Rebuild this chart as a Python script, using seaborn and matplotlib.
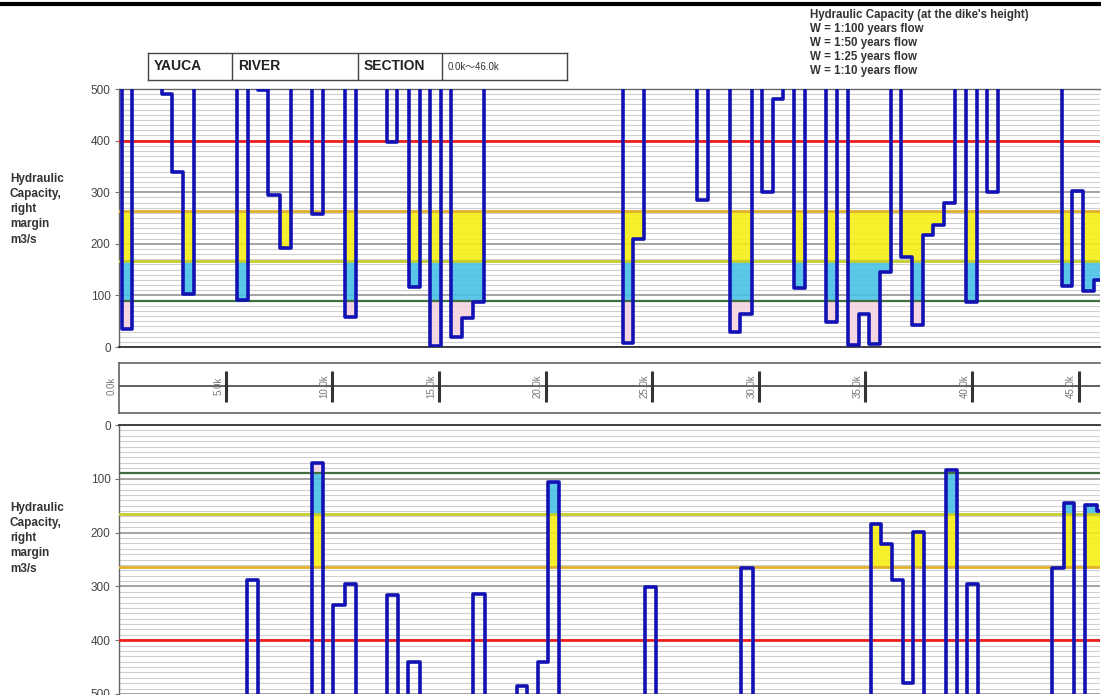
import numpy as np
import matplotlib
matplotlib.use("Agg")
import matplotlib.pyplot as plt
import seaborn as sns
from matplotlib.lines import Line2D

# ---------------- data ----------------
# section boundaries (km) and hydraulic capacity (m3/s) per section; 600 = above chart top
upper_km = [0.00, 0.13, 0.60, 2.00, 2.47, 3.02, 3.53, 5.52, 6.03, 6.53, 7.00, 7.55, 8.07,
            9.04, 9.58, 10.60, 11.11, 12.58, 13.05, 13.60, 14.11, 14.58, 15.10, 15.55,
            16.07, 16.59, 17.12, 23.62, 24.12, 24.63, 27.12, 27.63, 28.65, 29.12, 29.67,
            30.17, 30.68, 31.15, 31.67, 32.17, 33.14, 33.68, 34.17, 34.70, 35.18, 35.68,
            36.19, 36.67, 37.17, 37.71, 38.18, 38.70, 39.20, 39.70, 40.22, 40.69, 41.20,
            44.23, 44.70, 45.22, 45.73, 46.00]
upper_cap = [600, 35, 600, 491, 339, 103, 600, 92, 600, 498, 295, 192, 600,
             257, 600, 59, 600, 397, 600, 117, 600, 1, 600, 19,
             56, 87, 600, 8, 210, 600, 285, 600, 29, 63, 600,
             300, 481, 600, 115, 600, 48, 600, 3, 64, 6, 145,
             600, 175, 43, 217, 237, 280, 600, 87, 600, 300, 600,
             119, 303, 108, 130]

lower_km = [0.00, 5.99, 6.53, 9.04, 9.55, 10.05, 10.60, 11.11, 12.55, 13.07, 13.57, 14.11,
            16.61, 17.16, 18.65, 19.15, 19.63, 20.13, 20.65, 24.66, 25.18, 29.17, 29.71,
            35.25, 35.73, 36.23, 36.75, 37.25, 37.75, 38.76, 39.28, 39.75, 40.29, 43.76,
            44.31, 44.80, 45.30, 45.85, 46.00]
lower_cap = [600, 289, 600, 71, 600, 334, 295, 600, 316, 600, 441, 600,
             314, 600, 486, 600, 441, 106, 600, 302, 600, 266, 600,
             184, 222, 289, 480, 198, 600, 83, 600, 296, 600, 266,
             145, 600, 149, 160]

flow_labels = ["W = 1:100 years flow", "W = 1:50 years flow",
               "W = 1:25 years flow", "W = 1:10 years flow"]
flow_values = [400, 264, 166, 90]
legend_title = "Hydraulic Capacity (at the dike's height)"

km_ticks = [0, 5, 10, 15, 20, 25, 30, 35, 40, 45]
km_tick_labels = ["0.0k", "5.0k", "10.0k", "15.0k", "20.0k", "25.0k",
                  "30.0k", "35.0k", "40.0k", "45.0k"]
y_ticks = [0, 100, 200, 300, 400, 500]
header_cells = ["YAUCA", "RIVER", "SECTION", "0.0k\u301c46.0k"]
ylabel_text = "Hydraulic\nCapacity,\nright\nmargin\nm3/s"

# ---------------- style ----------------
sns.set_style("white")
plt.rcParams["font.family"] = ["Liberation Sans", "DejaVu Sans", "Noto Sans CJK JP"]

W, H = 1101, 695
fig = plt.figure(figsize=(W / 100, H / 100), dpi=100)


def fx(px):
    return px / W


def fy(py):
    return 1 - py / H


line_colors = ["#ee2020", "#e2b12a", "#c6cc2a", "#3f6f3f"]
line_widths = [2.0, 2.0, 2.0, 1.6]
fill_yellow = "#f7ef10"
fill_blue = "#45c0e6"
fill_pink = "#f3d3df"
cap_color = "#1212b4"


def draw_panel(ax, km, cap, inverted=False):
    x = np.asarray(km, dtype=float)
    y = np.asarray(list(cap) + [cap[-1]], dtype=float)
    t100, t50, t25, t10 = flow_values
    ax.fill_between(x, np.clip(y, t25, t50), t50, step="post", color=fill_yellow,
                    lw=0, zorder=1, alpha=0.88)
    ax.fill_between(x, np.clip(y, t10, t25), t25, step="post", color=fill_blue,
                    lw=0, zorder=1, alpha=0.88)
    ax.fill_between(x, np.clip(y, 0, t10), t10, step="post", color=fill_pink,
                    lw=0, zorder=1, alpha=0.9)
    for v, c, lw in zip(flow_values, line_colors, line_widths):
        ax.axhline(v, color=c, lw=lw, zorder=3)
    sns.lineplot(x=x, y=y, drawstyle="steps-post", estimator=None, sort=False,
                 color=cap_color, linewidth=2.6, ax=ax, zorder=4)
    ax.set_xlim(0, 46)
    if inverted:
        ax.set_ylim(500, 0)
    else:
        ax.set_ylim(0, 500)
    ax.set_yticks(y_ticks)
    ax.set_yticks(np.arange(0, 501, 10), minor=True)
    ax.set_axisbelow(True)
    ax.grid(which="minor", axis="y", color="#cfcfcf", lw=0.8)
    ax.grid(which="major", axis="y", color="#8a8a8a", lw=1.1)
    ax.grid(which="both", axis="x", visible=False)
    ax.set_xticks([])
    ax.tick_params(axis="y", which="major", length=3, width=0.8, color="#777",
                   labelsize=8.5, labelcolor="#444", pad=3, left=True)
    ax.tick_params(axis="y", which="minor", length=0)
    ax.set_xlabel("")
    ax.set_ylabel("")
    for s in ax.spines.values():
        s.set_color("#666")
        s.set_linewidth(1.0)
    ax.spines["right"].set_visible(False)


# upper panel
ax_up = fig.add_axes([fx(119), fy(347), fx(1100) - fx(119), fy(89) - fy(347)])
draw_panel(ax_up, upper_km, upper_cap)
ax_up.spines["bottom"].set_color("#333")
ax_up.spines["bottom"].set_linewidth(1.3)

# lower panel (inverted)
ax_lo = fig.add_axes([fx(119), fy(694), fx(1100) - fx(119), fy(425) - fy(694)])
draw_panel(ax_lo, lower_km, lower_cap, inverted=True)
ax_lo.spines["top"].set_color("#333")
ax_lo.spines["top"].set_linewidth(1.3)
ax_lo.spines["bottom"].set_visible(False)

# distance axis panel
ax_km = fig.add_axes([fx(119), fy(413), fx(1100) - fx(119), fy(363) - fy(413)])
ax_km.set_xlim(0, 46)
ax_km.set_ylim(0, 1)
ax_km.set_xticks([])
ax_km.set_yticks([])
for s in ax_km.spines.values():
    s.set_color("#555")
    s.set_linewidth(1.1)
ax_km.spines["right"].set_visible(False)
ax_km.hlines(0.54, 0, 46, color="#444", lw=1.2)
ax_km.vlines(km_ticks[1:], 0.22, 0.84, color="#333", lw=2.2)
for k, lab in zip(km_ticks, km_tick_labels):
    ax_km.text(k - 0.12, 0.54, lab, rotation=90, ha="right", va="center",
               fontsize=7, color="#777", clip_on=False)

# y labels
for ytop in (173, 502):
    fig.text(fx(10), fy(ytop), ylabel_text, ha="left", va="top", fontsize=8.5,
             fontweight="bold", color="#333", linespacing=1.35)

# header table
ax_h = fig.add_axes([fx(148), fy(80), fx(567) - fx(148), fy(53) - fy(80)])
ax_h.set_xlim(148, 567)
ax_h.set_ylim(0, 1)
ax_h.set_xticks([])
ax_h.set_yticks([])
for s in ax_h.spines.values():
    s.set_color("#444")
    s.set_linewidth(1.0)
cell_left = [148, 232, 358, 442]
ax_h.vlines(cell_left[1:], 0, 1, color="#444", lw=1.0)
for i, (cx, txt) in enumerate(zip(cell_left, header_cells)):
    if i < 3:
        ax_h.text(cx + 6, 0.5, txt, ha="left", va="center", fontsize=10,
                  fontweight="bold", color="#222")
    else:
        ax_h.text(cx + 6, 0.5, txt, ha="left", va="center", fontsize=7, color="#333")

# legend text block
fig.text(fx(810), fy(15), legend_title, ha="left", va="center", fontsize=8.3,
         fontweight="bold", color="#333")
for i, lab in enumerate(flow_labels):
    fig.text(fx(810), fy(29 + 14 * i), lab, ha="left", va="center", fontsize=8.3,
             fontweight="bold", color="#333")

# top rule
fig.add_artist(Line2D([0, 1], [fy(4), fy(4)], color="black", lw=3,
                      transform=fig.transFigure))

fig.savefig("out.png", dpi=100)
